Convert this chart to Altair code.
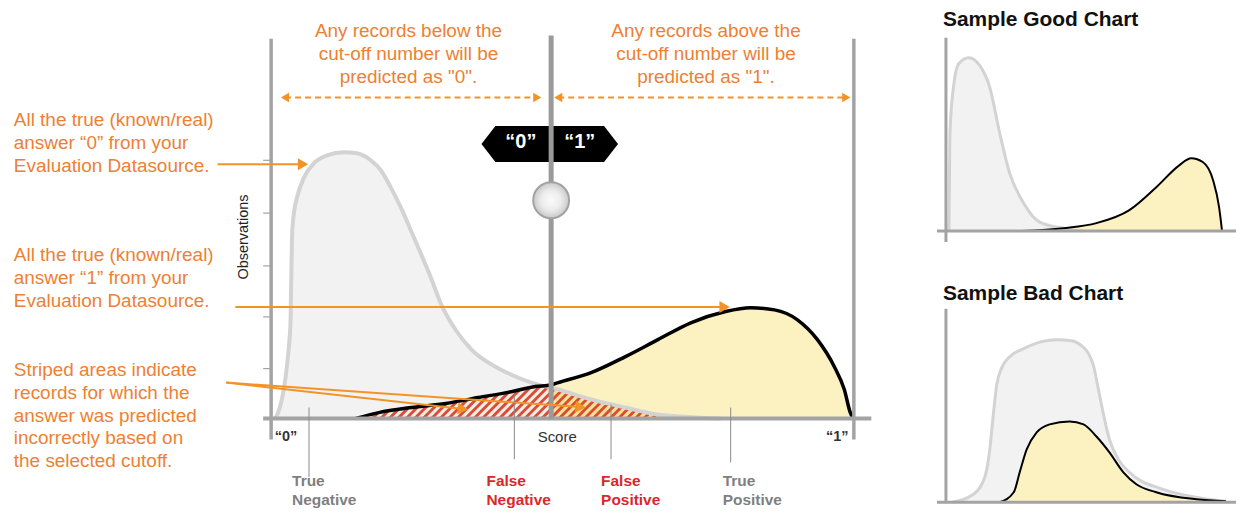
import altair as alt
import numpy as np
import pandas as pd

# ---------------- data ----------------
# main chart: score 0..1 on x, observations (gray peak ~100) on y
neg_score = [0.0068, 0.0120, 0.0171, 0.0223, 0.0274, 0.0308, 0.0334, 0.0342, 0.0351, 0.0360,
             0.0394, 0.0445, 0.0565, 0.0736, 0.0959, 0.1250, 0.1473, 0.1712, 0.1884, 0.2055,
             0.2226, 0.2397, 0.2568, 0.2740, 0.2911, 0.3168, 0.3442, 0.3853, 0.4247, 0.4589,
             0.4812, 0.4932, 0.5497, 0.6079, 0.6644, 0.7723]
neg_obs = [0, 2.2, 5.9, 11.5, 20.1, 27.5, 36.8, 48.0, 58.0, 68.4,
           77.0, 82.5, 89.9, 95.2, 98.1, 99.3, 98.9, 96.3, 92.6, 86.2,
           78.8, 70.3, 61.7, 52.8, 43.1, 33.1, 25.7, 19.3, 15.2, 12.6,
           11.5, 10.8, 7.1, 4.1, 1.5, 0]
pos_score = [0.1455, 0.1849, 0.2414, 0.2997, 0.3562, 0.4127, 0.4538, 0.4812, 0.4932, 0.5497,
             0.6079, 0.6644, 0.7209, 0.7791, 0.8236, 0.8647, 0.9041, 0.9384, 0.9675, 0.9846,
             0.9949, 1.0]
pos_obs = [0, 2.2, 4.1, 5.6, 7.8, 10.0, 11.9, 12.6, 13.4, 17.1,
           23.0, 29.4, 35.7, 39.8, 41.3, 40.5, 36.8, 29.4, 19.3, 10.8,
           2.2, 0]
cutoff = 0.481
y_ticks = [18.6, 37.9, 56.9, 76.6, 96.3]

# sample good chart
good_neg_score = [0.0108, 0.0126, 0.0144, 0.0289, 0.0469, 0.0830, 0.1227, 0.1588, 0.1949,
                  0.2310, 0.2816, 0.3394, 0.4260, 0.4982]
good_neg_obs = [0, 29.3, 56.3, 85.1, 96.6, 100, 95.4, 82.8, 56.3, 33.3, 16.1, 5.2, 1.7, 0]
good_pos_score = [0.2744, 0.4260, 0.5451, 0.6643, 0.7617, 0.8448, 0.8881, 0.9314, 0.9675,
                  0.9892, 1.0]
good_pos_obs = [0, 1.7, 4.6, 12.1, 25.3, 37.9, 42.0, 39.7, 29.3, 13.8, 0]

# sample bad chart
bad_neg_score = [0.0217, 0.0939, 0.1300, 0.1480, 0.1588, 0.1697, 0.1841, 0.2022, 0.2310,
                 0.2816, 0.3466, 0.4007, 0.4549, 0.4910, 0.5162, 0.5343, 0.5487, 0.5668,
                 0.5921, 0.6245, 0.6643, 0.7870, 0.9061, 1.0144]
bad_neg_obs = [0, 4.3, 11.0, 20.1, 32.3, 50.6, 72.0, 82.3, 89.0, 93.9, 98.2, 99.4, 98.8,
               95.7, 90.9, 83.5, 72.0, 56.7, 38.4, 26.2, 18.3, 7.9, 3.0, 0.6]
bad_pos_score = [0.1949, 0.2455, 0.2671, 0.2924, 0.3285, 0.3755, 0.4477, 0.4982, 0.5451,
                 0.5921, 0.6426, 0.6895, 0.7617, 0.9061, 1.0144]
bad_pos_obs = [0, 6.1, 18.3, 32.3, 42.7, 47.6, 49.4, 47.6, 40.2, 30.5, 18.3, 11.0, 6.1,
               1.8, 0.6]

# texts
txt_below = ["Any records below the", "cut-off number will be", 'predicted as "0".']
txt_above = ["Any records above the", "cut-off number will be", 'predicted as "1".']
txt_true0 = ["All the true (known/real)", "answer \u201c0\u201d from your", "Evaluation Datasource."]
txt_true1 = ["All the true (known/real)", "answer \u201c1\u201d from your", "Evaluation Datasource."]
txt_striped = ["Striped areas indicate", "records for which the", "answer was predicted",
               "incorrectly based on", "the selected cutoff."]
quad_labels = [["True", "Negative"], ["False", "Negative"], ["False", "Positive"], ["True", "Positive"]]
quad_colors = ["#7f7f7f", "#d8282a", "#d8282a", "#7f7f7f"]
end_labels = ["\u201c0\u201d", "Score", "\u201c1\u201d"]
hex_labels = ["\u201c0\u201d", "\u201c1\u201d"]
titles = ["Sample Good Chart", "Sample Bad Chart"]

# ---------------- styling ----------------
FONT = "Liberation Sans"
ORANGE_TXT = "#ee7f33"
ORANGE = "#f39327"
RED = "#dc4a3e"
AXIS = "#a3a3a3"
GRAY_FILL = "#f2f2f2"
GRAY_LINE = "#d3d3d3"
YEL_FILL = "#fbf1c1"

MAIN_W, MAIN_H = 892, 496
XM = alt.Scale(domain=[-0.452, 1.0753], nice=False, zero=False)
YM = alt.Scale(domain=[-31.6, 152.8], nice=False, zero=False)
KX = MAIN_W / (1.0753 + 0.452)
KY = MAIN_H / (152.8 + 31.6)


def xy(ch, xs, ys, x="x", y="y", x2=None, y2=None):
    enc = {"x": alt.X(f"{x}:Q", scale=xs, axis=None),
           "y": alt.Y(f"{y}:Q", scale=ys, axis=None)}
    if x2:
        enc["x2"] = alt.X2(f"{x2}:Q")
    if y2:
        enc["y2"] = alt.Y2(f"{y2}:Q")
    return ch.encode(**enc)


def cdf(s, v):
    return pd.DataFrame({"x": s, "y": v, "z": 0.0})


def seg(rows):
    return pd.DataFrame(rows, columns=["x", "y", "x2", "y2"])


def area(df, color, xs, ys):
    return xy(alt.Chart(df).mark_area(color=color, interpolate="monotone"), xs, ys, y2="z")


def line(df, color, w, xs, ys):
    return xy(alt.Chart(df).mark_line(color=color, strokeWidth=w, interpolate="monotone",
                                      strokeJoin="round"), xs, ys)


def rules(df, color, w, xs, ys, dash=None, cap="butt"):
    kw = dict(color=color, strokeWidth=w, strokeCap=cap)
    if dash:
        kw["strokeDash"] = dash
    return xy(alt.Chart(df).mark_rule(**kw), xs, ys, x2="x2", y2="y2")


def texts(df, xs, ys, **kw):
    base = dict(font=FONT)
    base.update(kw)
    return xy(alt.Chart(df).mark_text(**base), xs, ys).encode(text="t:N")


def block(lines, x, y0, step):
    return pd.DataFrame({"x": [x] * len(lines),
                         "y": [y0 - i * step for i in range(len(lines))],
                         "t": lines})


def pts(rows):
    return pd.DataFrame(rows, columns=["x", "y"])


def stripes(sa, sc, hs, hv, period=8.5):
    out = []
    sb = sa - 60 / KX
    t = np.arange(0, 90, 0.2)
    while sb <= sc:
        s = sb + t / KX
        v = t / KY
        h = np.interp(s, hs, hv)
        m = (s >= sa) & (s <= sc) & (v <= h)
        if m.any():
            i0 = int(np.where(m)[0][0])
            i1 = i0
            while i1 + 1 < len(m) and m[i1 + 1]:
                i1 += 1
            if i1 > i0:
                out.append((s[i0], v[i0], s[i1], v[i1]))
        sb += period / KX
    return seg(out)


# ---------------- main chart ----------------
neg_df = cdf(neg_score, neg_obs)
pos_df = cdf(pos_score, pos_obs)

fn_s = [s for s in pos_score if s < cutoff] + [cutoff]
fn_v = [v for s, v in zip(pos_score, pos_obs) if s < cutoff] + [float(np.interp(cutoff, pos_score, pos_obs))]
fp_s = [cutoff] + [s for s in neg_score if s > cutoff]
fp_v = [float(np.interp(cutoff, neg_score, neg_obs))] + [v for s, v in zip(neg_score, neg_obs) if s > cutoff]

fn_stripes = stripes(pos_score[0], cutoff, fn_s, fn_v)
fp_stripes = stripes(cutoff, neg_score[-1], fp_s, fp_v)

HEX = "M -1 0 L -0.796 -0.263 L 0.796 -0.263 L 1 0 L 0.796 0.263 L -0.796 0.263 Z"

handle_fill = alt.RadialGradient(
    gradient="radial",
    stops=[alt.GradientStop(offset=0, color="#fbfbfb"),
           alt.GradientStop(offset=0.55, color="#ececec"),
           alt.GradientStop(offset=1, color="#c9c9c9")],
)

TXT = 19
STEP = 8.55

layers = [
    area(neg_df, GRAY_FILL, XM, YM),
    area(pos_df, YEL_FILL, XM, YM),
    area(cdf(fn_s, fn_v), "#f4f0e0", XM, YM),
    area(cdf(fp_s, fp_v), "#f6e58f", XM, YM),
    rules(fn_stripes, RED, 2.9, XM, YM),
    rules(fp_stripes, RED, 2.9, XM, YM),
    line(neg_df, GRAY_LINE, 4, XM, YM),
    line(pos_df, "#000000", 3.5, XM, YM),
    # axes
    rules(seg([(0, 141.6, 0, -7.8), (1.001, 141.6, 1.001, -7.8)]), AXIS, 3.5, XM, YM),
    rules(seg([(-0.0137, 0, 1.031, 0)]), AXIS, 4, XM, YM),
    rules(seg([(-0.0137, t, 0, t) for t in y_ticks]), AXIS, 1.2, XM, YM),
    texts(pd.DataFrame({"x": [-0.0462], "y": [67.7], "t": ["Observations"]}), XM, YM,
          fontSize=14.5, angle=270, color="#222222"),
    # cutoff handle label
    xy(alt.Chart(pts([(0.4786, 102.4)])).mark_point(shape=HEX, size=18769, filled=True,
                                                    color="#000000", opacity=1), XM, YM),
    texts(pd.DataFrame({"x": [0.429, 0.530], "y": [103.1, 103.1], "t": hex_labels}), XM, YM,
          fontSize=20, fontWeight="bold", color="#ffffff"),
    rules(seg([(cutoff, 142.8, cutoff, 0)]), "#9a9a9a", 5, XM, YM),
    xy(alt.Chart(pts([(cutoff, 81.4)])).mark_point(shape="circle", size=1296, filled=True,
                                                   fill=handle_fill, stroke="#a2a2a2",
                                                   strokeWidth=2, opacity=1), XM, YM),
    # top annotations
    texts(block(txt_below, 0.236, 144.6, STEP), XM, YM, fontSize=TXT, color=ORANGE_TXT),
    texts(block(txt_above, 0.747, 144.6, STEP), XM, YM, fontSize=TXT, color=ORANGE_TXT),
    rules(seg([(0.024, 119.7, 0.457, 119.7), (0.4932, 119.7, 0.988, 119.7)]), ORANGE, 2,
          XM, YM, dash=[6, 4]),
    xy(alt.Chart(pts([(0.0237, 119.7), (0.4932, 119.7)])).mark_point(
        shape="triangle-left", size=90, filled=True, color=ORANGE, opacity=1), XM, YM),
    xy(alt.Chart(pts([(0.4572, 119.7), (0.988, 119.7)])).mark_point(
        shape="triangle-right", size=90, filled=True, color=ORANGE, opacity=1), XM, YM),
    # left annotations
    texts(block(txt_true0, -0.442, 111.2, STEP), XM, YM, fontSize=TXT, align="left", color=ORANGE_TXT),
    texts(block(txt_true1, -0.442, 61.0, STEP), XM, YM, fontSize=TXT, align="left", color=ORANGE_TXT),
    texts(block(txt_striped, -0.442, 18.2, STEP), XM, YM, fontSize=TXT, align="left", color=ORANGE_TXT),
    rules(seg([(-0.092, 94.8, 0.0548, 94.8), (-0.0616, 41.6, 0.779, 41.6),
               (-0.0771, 13.38, 0.3296, 3.57), (-0.0771, 13.38, 0.5317, 4.24)]), ORANGE, 2, XM, YM),
    xy(alt.Chart(pts([(0.0548, 94.8), (0.779, 41.6)])).mark_point(
        shape="triangle-right", size=144, filled=True, color=ORANGE, opacity=1), XM, YM),
    xy(alt.Chart(pts([(0.3296, 3.57)])).mark_point(
        shape="triangle-right", size=144, filled=True, color=ORANGE, opacity=1, angle=6), XM, YM),
    xy(alt.Chart(pts([(0.5317, 4.24)])).mark_point(
        shape="triangle-right", size=144, filled=True, color=ORANGE, opacity=1, angle=4), XM, YM),
    # bottom labels
    texts(pd.DataFrame({"x": [0.0257, 0.9726], "y": [-7.06, -7.06], "t": [end_labels[0], end_labels[2]]}),
          XM, YM, fontSize=14.5, fontWeight="bold", color="#333333"),
    texts(pd.DataFrame({"x": [0.4914], "y": [-7.06], "t": [end_labels[1]]}),
          XM, YM, fontSize=15, color="#333333"),
    rules(seg([(0.0651, 4.1, 0.0651, -21.9), (0.4178, 8.9, 0.4178, -15.2),
               (0.5839, 5.2, 0.5839, -15.2), (0.7894, 4.1, 0.7894, -16.4)]), "#8a8a8a", 1, XM, YM),
]
for lab, col, x0 in zip(quad_labels, quad_colors, [0.036, 0.3699, 0.5668, 0.7757]):
    layers.append(texts(block(lab, x0, -23.4, 7.1), XM, YM, fontSize=15.5, fontWeight="bold",
                        align="left", color=col))

main = alt.layer(*layers).properties(width=MAIN_W, height=MAIN_H)

# ---------------- sample charts ----------------
XS = alt.Scale(domain=[-0.0325, 1.0505], nice=False, zero=False)
YG = alt.Scale(domain=[-8.05, 128.16], nice=False, zero=False)
YB = alt.Scale(domain=[-0.61, 139.0], nice=False, zero=False)


def sample(ns, nv, ps, pv, ys, title, title_y, ax_top, ax_bot):
    n = cdf(ns, nv)
    p = cdf(ps, pv)
    return alt.layer(
        area(n, GRAY_FILL, XS, ys),
        area(p, YEL_FILL, XS, ys),
        line(n, GRAY_LINE, 3, XS, ys),
        line(p, "#000000", 2, XS, ys),
        rules(seg([(0, ax_top, 0, ax_bot)]), AXIS, 3, XS, ys),
        rules(seg([(-0.0325, 0, 1.0505, 0)]), AXIS, 3, XS, ys),
        texts(pd.DataFrame({"x": [-0.0108], "y": [title_y], "t": [title]}), XS, ys,
              fontSize=21, fontWeight="bold", align="left", baseline="top", color="#111111"),
    )


good = sample(good_neg_score, good_neg_obs, good_pos_score, good_pos_obs, YG,
              titles[0], 128.1, 111.5, -6.3).properties(width=300, height=237)
bad = sample(bad_neg_score, bad_neg_obs, bad_pos_score, bad_pos_obs, YB,
             titles[1], 133.9, 118.3, -0.6).properties(width=300, height=229)

chart = alt.hconcat(
    main,
    alt.vconcat(good, bad, spacing=30, bounds="flush"),
    spacing=40, bounds="flush",
).properties(padding=0).configure_view(stroke=None)

chart.save("out.html", embed_options={"renderer": "svg", "actions": False})
